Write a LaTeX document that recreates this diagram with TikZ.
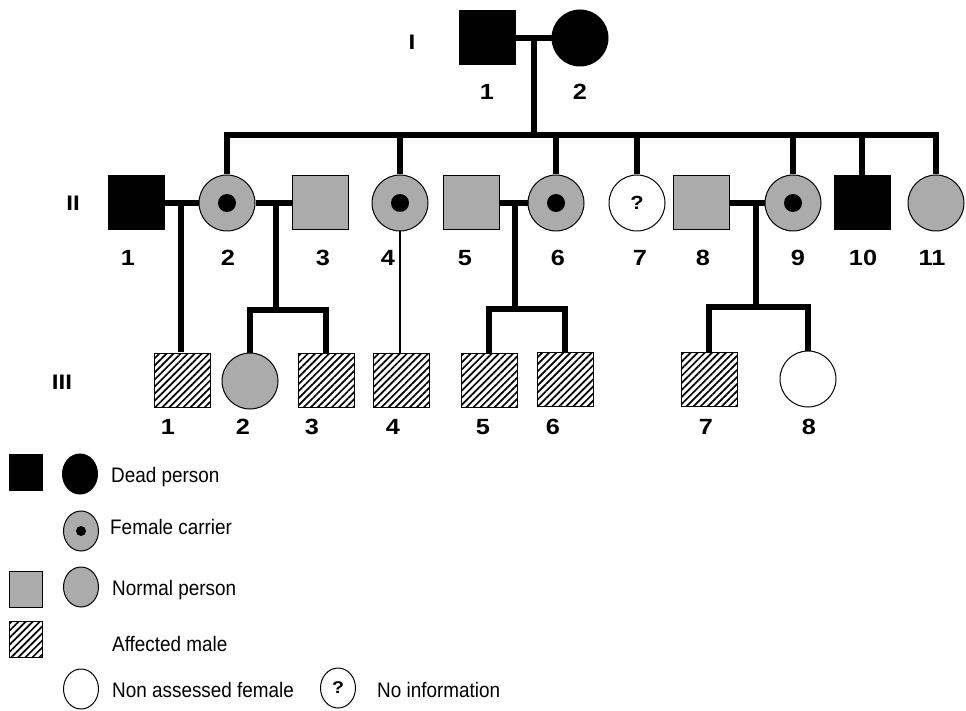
\documentclass[tikz,border=0pt]{standalone}
\usepackage{fontspec}
\setmainfont{Liberation Sans}
\newfontfamily\numfont[FakeStretch=1.15]{Liberation Sans}
\newfontfamily\legfont[FakeStretch=0.9]{Liberation Sans}
\usetikzlibrary{patterns.meta,shapes.geometric}

\definecolor{normalgray}{HTML}{ABABAB}

\tikzset{
    male/.style={rectangle,draw,line width=1pt,minimum width=56pt,minimum height=54pt,inner sep=0pt},
    female/.style={circle,draw,line width=1pt,minimum size=56pt,inner sep=0pt},
    legm/.style={male,minimum width=33pt,minimum height=36pt},
    legf/.style={ellipse,draw,line width=1pt,minimum width=35pt,minimum height=40pt,inner sep=0pt},
    dead/.style={fill=black},
    normal/.style={fill=normalgray},
    affected/.style={pattern={Lines[angle=45,distance=5pt,line width=1.7pt]}},
    carrier/.style={fill=normalgray,path picture={\fill[black] (path picture bounding box.center) circle (#1);}},
    carrier/.default=9pt,
    rel/.style={line width=6pt},
    num/.style={font=\numfont\fontsize{22}{24}\selectfont\bfseries,inner sep=0pt},
    gen/.style={font=\numfont\fontsize{21}{24}\selectfont\bfseries,inner sep=0pt},
    legtext/.style={font=\legfont\fontsize{21}{24}\selectfont,anchor=west,inner sep=0pt}
}

\begin{document}
\begin{tikzpicture}[x=1pt,y=-1pt]
    \useasboundingbox (0,0) rectangle (966,711);
    % Generation I
    \node [gen] (gI) at (412,42) {I};
    \node [male,dead] (I1) at (487,38) {};
    \node [female,dead] (I2) at (580,38) {};

    % Generation II
    \node [gen] (gII) at (73,203) {II};
    \node [male,dead] (II1) at (136,203) {};
    \node [female,carrier] (II2) at (227,203) {};
    \node [male,normal] (II3) at (320,203) {};
    \node [female,carrier] (II4) at (400,203) {};
    \node [male,normal] (II5) at (471,203) {};
    \node [female,carrier] (II6) at (556,203) {};
    \node [female,font=\numfont\fontsize{19}{20}\selectfont\bfseries] (II7) at (637,203) {?};
    \node [male,normal] (II8) at (701,203) {};
    \node [female,carrier] (II9) at (793,203) {};
    \node [male,dead] (II10) at (862,203) {};
    \node [female,normal] (II11) at (936,203) {};

    % Generation III
    \node [gen] (gIII) at (62,382) {III};
    \node [male,affected] (III1) at (182,380) {};
    \node [female,normal] (III2) at (250,381) {};
    \node [male,affected] (III3) at (326,380) {};
    \node [male,affected] (III4) at (401,380) {};
    \node [male,affected] (III5) at (489,380) {};
    \node [male,affected] (III6) at (565,379) {};
    \node [male,affected] (III7) at (709,379) {};
    \node [female] (III8) at (808,379) {};

    % Numbers
    \foreach \i/\x in {1/487,2/580}
        \node [num] (nI\i) at (\x,92) {\i};
    \foreach \i/\x in {1/128,2/228,3/323,4/388,5/465,6/558,7/640,8/703,9/798,10/863,11/932}
        \node [num] (nII\i) at (\x,258) {\i};
    \foreach \i/\x in {1/168,2/243,3/312,4/393,5/483,6/553,7/706,8/809}
        \node [num] (nIII\i) at (\x,427) {\i};

    % Connections
    \coordinate (mI) at (534,38);
    \coordinate (sI) at (534,135);
    \draw [rel] (I1.east) -- (I2.west);
    \draw [rel] (mI) -- (sI);
    \draw [rel] (II2.north) |- (II11.north |- sI) -- (II11.north);
    \foreach \c in {II4,II6,II7,II9,II10}
        \draw [rel] (\c.north) -- (\c.north |- sI);

    \draw [rel] (II1.east) -- (II2.west);
    \draw [rel] (II2.east) -- (II3.west);
    \draw [rel] (II5.east) -- (II6.west);
    \draw [rel] (II8.east) -- (II9.west);

    \coordinate (m12) at (181,203);
    \draw [rel] (m12) -- (m12 |- III1.north);
    \coordinate (m23) at (276,203);
    \coordinate (s23) at (276,310);
    \draw [rel] (m23) -- (s23);
    \draw [rel] (III2.north) |- (s23) -| (III3.north);
    \draw [line width=2pt] (II4.south) -- (II4.south |- III4.north);
    \coordinate (m56) at (515,203);
    \coordinate (s56) at (515,309);
    \draw [rel] (m56) -- (s56);
    \draw [rel] (III5.north) |- (s56) -| (III6.north);
    \coordinate (m89) at (756,203);
    \coordinate (s89) at (756,307);
    \draw [rel] (m89) -- (s89);
    \draw [rel] (III7.north) |- (s89) -| (III8.north);

    % Legend
    \node [legm,dead] (kdeadm) at (26,472) {};
    \node [legf,dead] (kdeadf) at (80,474) {};
    \node [legtext] (tdead) at (111,477) {Dead person};
    \node [legf,carrier=5pt] (kcarrier) at (81,531) {};
    \node [legtext] (tcarrier) at (110,527) {Female carrier};
    \node [legm,normal] (knormm) at (26,589) {};
    \node [legf,normal] (knormf) at (81,587) {};
    \node [legtext] (tnormal) at (112,590) {Normal person};
    \node [legm,affected] (kaff) at (26,639) {};
    \node [legtext] (taff) at (112,644) {Affected male};
    \node [legf] (knon) at (81,689) {};
    \node [legtext] (tnon) at (112,690) {Non assessed female};
    \node [legf,font=\numfont\fontsize{17}{18}\selectfont\bfseries] (kinfo) at (338,688) {?};
    \node [legtext] (tinfo) at (377,690) {No information};
\end{tikzpicture}
\end{document}
